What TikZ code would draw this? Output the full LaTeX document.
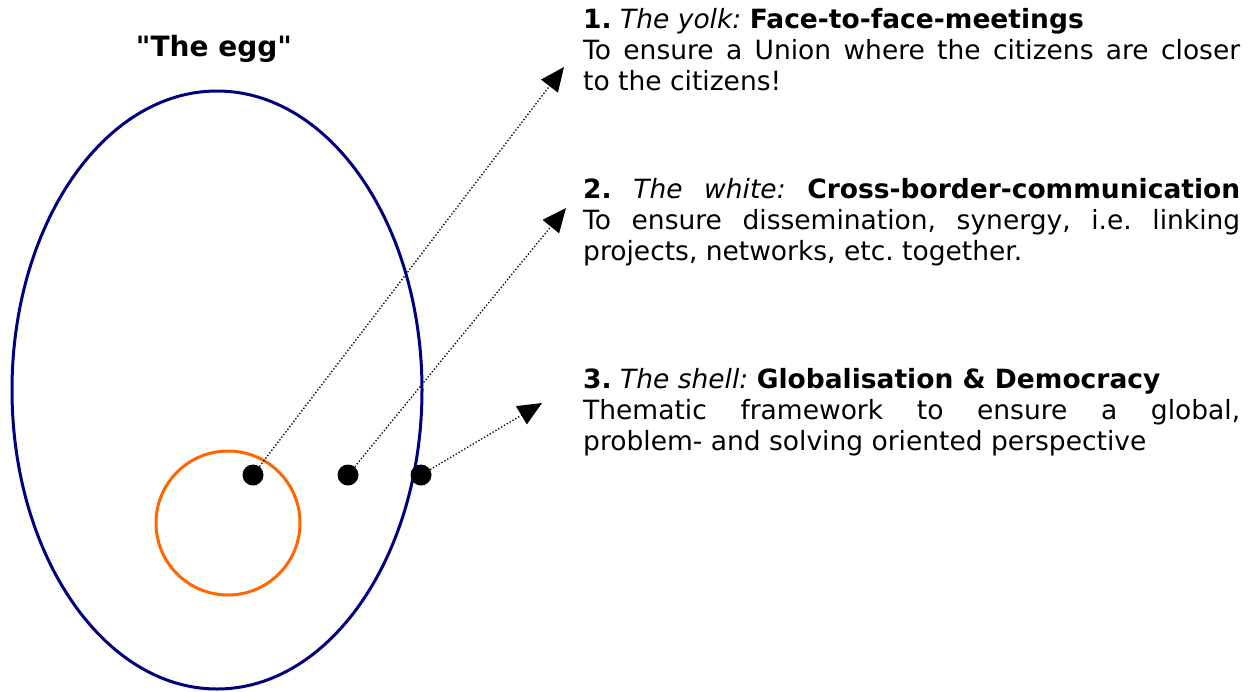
\documentclass[tikz,border=0pt]{standalone}
\usepackage{fontspec}
\setmainfont{DejaVu Sans}
\usetikzlibrary{arrows.meta}
\definecolor{eggblue}{RGB}{0,0,128}
\definecolor{yolkorange}{RGB}{255,102,0}
\newcommand{\straightquote}{\XeTeXglyph\XeTeXcharglyph"22\relax}
\tikzset{
  dotnode/.style={circle,fill=black,inner sep=0pt,minimum size=21pt},
  pointer/.style={dotted,line width=1.3pt,-{Triangle[length=24pt,width=21pt]}},
  txt/.style={anchor=north west,inner sep=0pt,text width=657pt,align=justify,font=\fontsize{26.5}{31}\selectfont\frenchspacing}
}
\begin{document}
\begin{tikzpicture}[x=1pt,y=-1pt]
\useasboundingbox (0,0) rectangle (1253,691);
\draw[eggblue,line width=3pt] (217,390) ellipse [x radius=205,y radius=299];
\draw[yolkorange,line width=3pt] (228,523) circle [radius=72];
\node[font=\fontsize{28}{31}\selectfont\bfseries] (title) at (214,49) {\straightquote The egg\straightquote};
\node[dotnode] (d1) at (253,475) {};
\node[dotnode] (d2) at (348,475) {};
\node[dotnode] (d3) at (421,475) {};
\coordinate (t1) at (564,67);
\coordinate (t2) at (566,208);
\coordinate (t3) at (542,403);
\draw[pointer] (d1) -- (t1);
\draw[pointer] (d2) -- (t2);
\draw[pointer] (d3) -- (t3);
\node[txt] (b1) at (583,8) {\textbf{1.} \textit{The yolk:} \textbf{Face-to-face-meetings}\\
To ensure a Union where the citizens are closer\linebreak to the citizens!};
\node[txt] (b2) at (583,178) {\textbf{2.} \textit{The white:} \textbf{Cross-border-communication}\linebreak
To ensure dissemination, synergy, i.e. linking\linebreak projects, networks, etc. together.};
\node[txt] (b3) at (583,368) {\textbf{3.} \textit{The shell:} \textbf{Globalisation \& Democracy}\\
Thematic framework to ensure a global,\linebreak problem- and solving oriented perspective};
\end{tikzpicture}
\end{document}
